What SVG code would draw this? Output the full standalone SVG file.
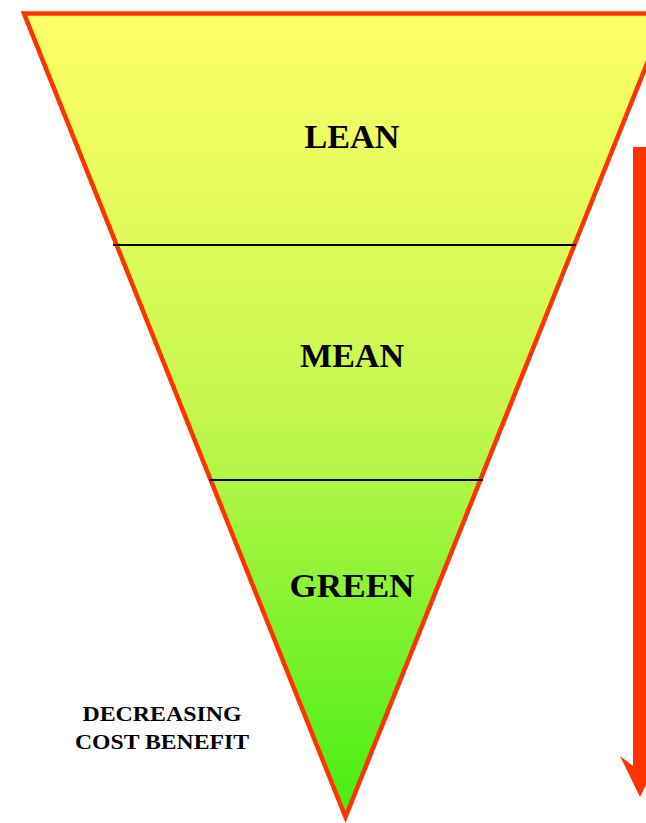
<svg xmlns="http://www.w3.org/2000/svg" width="646" height="823" viewBox="0 0 646 823">
<defs>
<linearGradient id="g" x1="0" y1="13" x2="0" y2="818" gradientUnits="userSpaceOnUse">
<stop offset="0" stop-color="#FFFF66"/>
<stop offset="0.5" stop-color="#C4F74E"/>
<stop offset="1" stop-color="#44EE11"/>
</linearGradient>
<style>
.lbl{font-family:"Liberation Serif","Times New Roman",serif;font-weight:bold;fill:#000;text-anchor:middle}
.big{font-size:33px}
.small{font-size:21px}
.div{stroke:#000;stroke-width:2}
</style>
</defs>
<g id="funnel">
<polygon points="24,13.5 667,13.5 345.5,817" fill="url(#g)" stroke="#FF3300" stroke-width="4.5" stroke-linejoin="miter"/>
</g>
<g id="connectors">
<line class="div" x1="113" y1="245" x2="576" y2="245"/>
<line class="div" x1="209" y1="480" x2="483" y2="480"/>
</g>
<g id="lean"><text class="lbl big" x="352" y="148" textLength="95" lengthAdjust="spacingAndGlyphs">LEAN</text></g>
<g id="mean"><text class="lbl big" x="352" y="367" textLength="104" lengthAdjust="spacingAndGlyphs">MEAN</text></g>
<g id="green"><text class="lbl big" x="352" y="597" textLength="125" lengthAdjust="spacingAndGlyphs">GREEN</text></g>
<g id="caption">
<text class="lbl small" x="162" y="721" textLength="159" lengthAdjust="spacingAndGlyphs">DECREASING</text>
<text class="lbl small" x="162" y="749" textLength="174" lengthAdjust="spacingAndGlyphs">COST BENEFIT</text>
</g>
<g id="arrow">
<polygon points="633,147 647,147 647,766 660,756 640,797 620,756 633,766" fill="#FF3300"/>
</g>
</svg>
